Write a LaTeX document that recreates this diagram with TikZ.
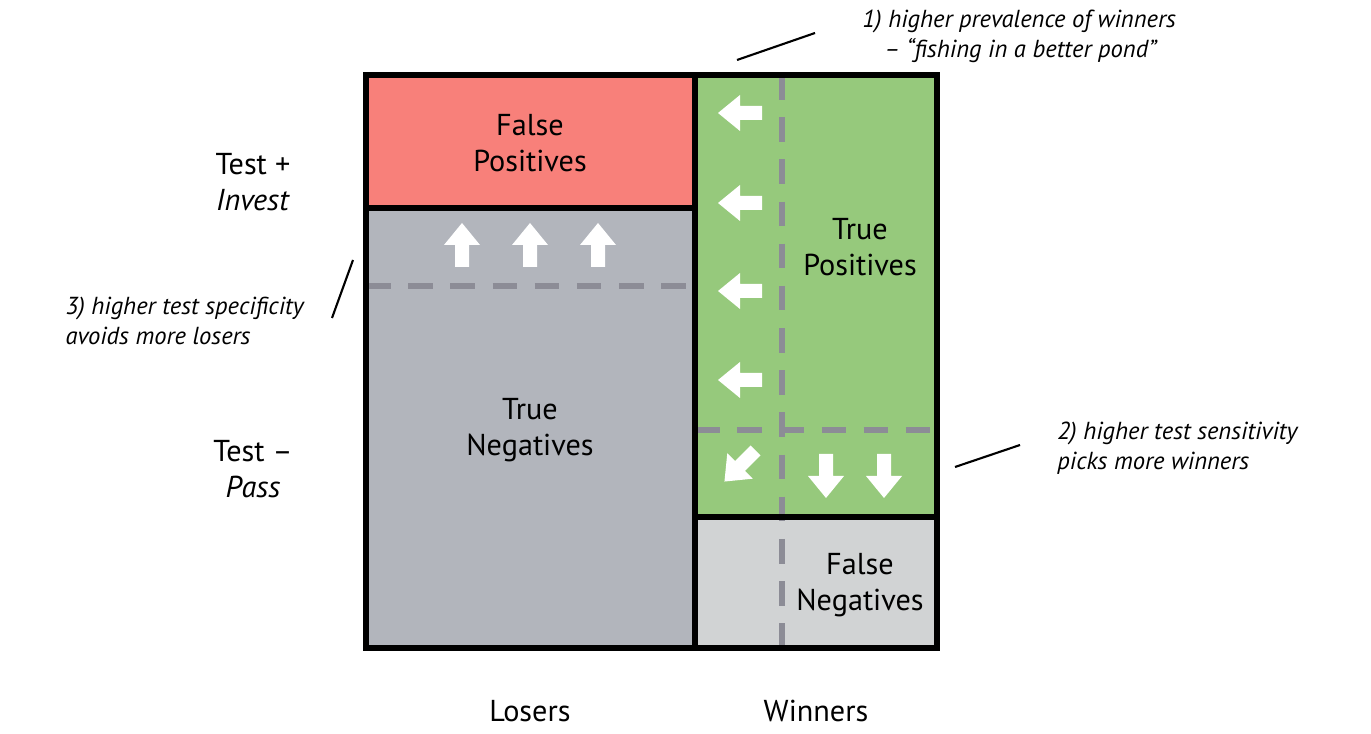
\documentclass[tikz,border=0pt]{standalone}
\usepackage{fontspec}
\setmainfont{PT Sans}
\usetikzlibrary{positioning}
\definecolor{fpred}{RGB}{248,128,122}
\definecolor{tpgreen}{RGB}{150,201,124}
\definecolor{tngrey}{RGB}{178,181,188}
\definecolor{fngrey}{RGB}{209,211,212}
\definecolor{dashgrey}{RGB}{140,140,150}
\begin{document}
\begin{tikzpicture}[x=1cm,y=-1cm,
box/.style = {draw=black, line width=1.6pt},
split/.style = {dashgrey, line width=1.5pt, dash pattern=on 7pt off 5pt},
lab/.style = {font=\fontsize{8.6}{10.4}\selectfont, align=center},
note/.style = {font=\fontsize{7}{8.6}\selectfont\itshape, align=left},
pointer/.style = {black, line width=0.6pt},
blockarrow/.pic = {\fill[white] (-0.07,0.22) -- (0.07,0.22) -- (0.07,0) -- (0.18,0)
  -- (0,-0.22) -- (-0.18,0) -- (-0.07,0) -- cycle;}]
\useasboundingbox (0,0) rectangle (13.71,7.34);
% cells
\fill[fpred] (3.66,0.75) rectangle (6.95,2.08);
\fill[tngrey] (3.66,2.08) rectangle (6.95,6.48);
\fill[tpgreen] (6.95,0.75) rectangle (9.37,5.17);
\fill[fngrey] (6.95,5.17) rectangle (9.37,6.48);
% dashed splits
\draw[split] (3.66,2.86) -- (6.95,2.86);
\draw[split] (6.95,4.30) -- (9.37,4.30);
\draw[split] (7.82,0.75) -- (7.82,6.48);
% borders
\draw[box] (3.66,2.08) -- (6.95,2.08);
\draw[box] (6.95,5.17) -- (9.37,5.17);
\draw[box] (6.95,0.75) -- (6.95,6.48);
\draw[box] (3.66,0.75) rectangle (9.37,6.48);
% arrows
\foreach \x in {4.62,5.30,5.98} \pic at (\x,2.45) {blockarrow};
\foreach \y in {1.13,2.03,2.91,3.80} \pic[rotate=90] at (7.40,\y) {blockarrow};
\foreach \x in {8.26,8.84} \pic[rotate=180] at (\x,4.76) {blockarrow};
\pic[rotate=135] at (7.40,4.66) {blockarrow};
% labels
\node[lab] (fp) at (5.30,1.43) {False\\Positives};
\node[lab] (tn) at (5.30,4.30) {True\\Negatives};
\node[lab] (tp) at (8.60,2.47) {True\\Positives};
\node[lab] (fn) at (8.60,5.85) {False\\Negatives};
\node[lab] (inv) at (2.53,1.82) {Test +\\\textit{Invest}};
\node[lab] (pass) at (2.53,4.69) {Test --\\\textit{Pass}};
\node[lab] (los) at (5.30,7.11) {Losers};
\node[lab] (win) at (8.16,7.11) {Winners};
% notes
\node[note, anchor=west] (n1) at (8.50,0.36) {1) higher prevalence of winners\\\hspace*{0.9em}-- “fishing in a better pond”};
\node[note, anchor=east] (n3) at (3.16,3.21) {3) higher test specificity\\avoids more losers};
\node[note, anchor=west] (n2) at (10.45,4.48) {2) higher test sensitivity\\picks more winners};
\coordinate (c1a) at (7.37,0.60); \coordinate (c1b) at (8.15,0.33);
\coordinate (c3a) at (3.32,3.18); \coordinate (c3b) at (3.53,2.60);
\coordinate (c2a) at (9.55,4.67); \coordinate (c2b) at (10.20,4.45);
\draw[pointer] (c1a) -- (c1b);
\draw[pointer] (c3a) -- (c3b);
\draw[pointer] (c2a) -- (c2b);
\end{tikzpicture}
\end{document}
